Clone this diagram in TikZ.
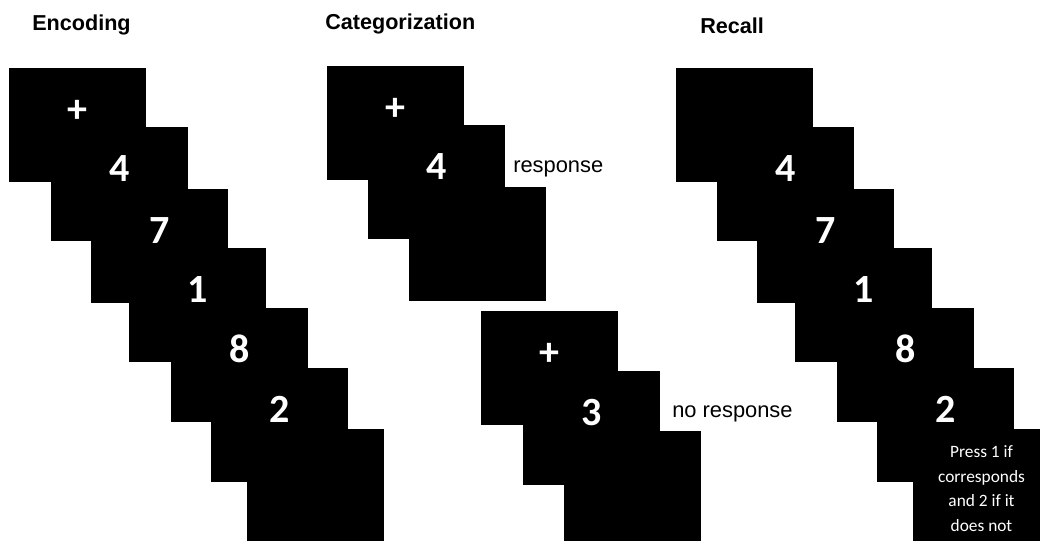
\documentclass[tikz,border=0pt]{standalone}
\usepackage{fontspec}
\setmainfont{Liberation Sans}
\newfontfamily\arial{Liberation Sans}
\newfontfamily\calibri{Carlito}
\tikzset{
 screen/.style={fill=black,inner sep=0pt,outer sep=0pt,
  minimum width=102.75pt,minimum height=85.5pt,anchor=north west},
 digit/.style={text=white,anchor=base,
  font=\calibri\bfseries\fontsize{30}{36}\selectfont},
 phase/.style={anchor=base west,inner sep=0pt,
  font=\arial\bfseries\fontsize{16.2}{19}\selectfont},
 answer/.style={anchor=base west,inner sep=0pt,
  font=\arial\fontsize{16.4}{19}\selectfont},
 note/.style={text=white,align=center,
  font=\calibri\fontsize{13}{18.4}\selectfont},
}
\begin{document}
\begin{tikzpicture}[x=.75pt,y=-.75pt]
 \useasboundingbox (0,0) rectangle (1040,540);
 \clip (0,0) rectangle (1040,540);
 \node[phase] (tenc) at (32,30) {Encoding};
 \node[phase] (tcat) at (325,29) {Categorization};
 \node[phase] (trec) at (700,33) {Recall};
 % <<< Encoding
 \foreach \n/\x/\y/\d in {1/9/68/+,2/51/127/4,3/91/189/7,4/129/248/1,5/171/308/8,6/211/368/2}{
  \node[screen] (e\n) at (\x,\y) {};
  \node[digit] (de\n) at ([yshift=-40.5pt]e\n.north) {\d};
 }
 \node[screen] (e7) at (247,429) {};
 % <<< Categorization
 \foreach \n/\x/\y/\d in {1/327/66/+,2/368/125/4,4/481/311/+,5/523/371/3}{
  \node[screen] (c\n) at (\x,\y) {};
  \node[digit] (dc\n) at ([yshift=-40.5pt]c\n.north) {\d};
 }
 \node[screen] (c3) at (409,187) {};
 \node[screen] (c6) at (564,431) {};
 \node[answer] (yes) at (513,172) {response};
 \node[answer] (no) at (672,417) {no response};
 % <<< Recall
 \node[screen] (r1) at (676,68) {};
 \foreach \n/\x/\y/\d in {2/717/127/4,3/757/189/7,4/795/248/1,5/837/308/8,6/877/368/2}{
  \node[screen] (r\n) at (\x,\y) {};
  \node[digit] (dr\n) at ([yshift=-40.5pt]r\n.north) {\d};
 }
 \node[screen] (r7) at (913,429) {};
 \node[note] (ask) at ([yshift=-2pt]r7.center) {Press 1 if\\corresponds\\and 2 if it\\does not};
\end{tikzpicture}
\end{document}
